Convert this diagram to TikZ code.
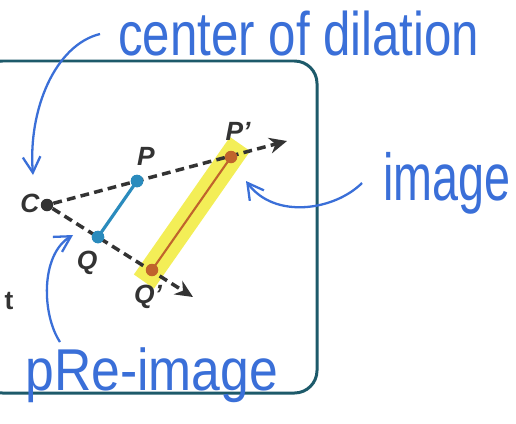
\documentclass[tikz,border=0pt]{standalone}
\usepackage{fontspec}
\usepackage{graphicx}
\setmainfont{Liberation Sans}
\usetikzlibrary{arrows.meta}
\definecolor{boxc}{HTML}{1D5A6A}
\definecolor{inkc}{HTML}{3A6FD8}
\definecolor{prec}{HTML}{2A8BBD}
\definecolor{imgc}{HTML}{C0642C}
\definecolor{hil}{HTML}{F2EC3A}
\definecolor{darkg}{HTML}{333333}
\tikzset{
  dot/.style={circle,inner sep=0pt,minimum size=0.25cm},
  lbl/.style={font=\fontsize{15}{16}\selectfont\bfseries\itshape,text=darkg,inner sep=0pt},
  ray/.style={darkg,line width=2pt,dash pattern=on 5pt off 3pt,-{Stealth[length=10pt,width=9pt]}},
  hand/.style={inkc,line width=1.3pt,-{Straight Barb[length=9pt,width=10pt]}},
  handtxt/.style={text=inkc,inner sep=0pt,font=\fontsize{28}{30}\selectfont}
}
\begin{document}
\begin{tikzpicture}[x=0.02cm,y=-0.02cm]
\useasboundingbox (0,0) rectangle (516,423);
\clip (0,0) rectangle (516,423);
\fill[white] (0,0) rectangle (516,423);
% frame
\draw[boxc,line width=1.7pt,rounded corners=0.45cm] (-20,61) rectangle (317,393);
% points
\node[dot,fill=darkg] (c) at (47,205) {};
\node[dot,fill=prec] (p) at (137,181) {};
\node[dot,fill=prec] (q) at (98,237) {};
\coordinate (pe) at (287,141);
\coordinate (qe) at (193,297);
% highlight
\coordinate (pp) at (231,157);
\coordinate (qq) at (152,270);
\draw[hil,opacity=0.85,line width=14pt,shorten <=-9pt,shorten >=-8pt] (pp) -- (qq);
% rays
\draw[ray] (c) -- (pe);
\draw[ray] (c) -- (qe);
% segments
\draw[prec,line width=1.8pt] (p.center) -- (q.center);
\draw[imgc,line width=1.2pt] (pp) -- (qq);
\node[dot,fill=imgc] (p2) at (pp) {};
\node[dot,fill=imgc] (q2) at (qq) {};
\node[dot,fill=prec] at (p) {};
\node[dot,fill=prec] at (q) {};
% labels
\node[lbl] (lc) at (30,203) {C};
\node[lbl] (lp) at (146,156) {P};
\node[lbl] (lq) at (87,263) {Q};
\node[lbl] (lp2) at (238,131) {P'};
\node[lbl] (lq2) at (148,297) {Q'};
\node[font=\fontsize{15}{16}\selectfont\bfseries,text=darkg,inner sep=0pt] (t) at (9,301) {t};
% handwritten annotations
\node[handtxt,anchor=base west] (cd) at (118,55) {\scalebox{1.0}[1.25]{center of dilation}};
\node[handtxt,anchor=base west] (im) at (383,200) {\scalebox{0.95}[1.35]{image}};
\node[handtxt,anchor=base west] (pre) at (25,390) {\scalebox{1.05}[1.2]{pRe-image}};
\coordinate (a1s) at (100,34);
\coordinate (a1e) at (33,175);
\draw[hand] (a1s) .. controls (55,45) and (28,110) .. (a1e);
\coordinate (a2s) at (362,183);
\coordinate (a2e) at (246,181);
\draw[hand] (a2s) .. controls (335,210) and (275,220) .. (a2e);
\coordinate (a3s) at (60,342);
\coordinate (a3e) at (73,235);
\draw[hand] (a3s) .. controls (42,315) and (40,255) .. (a3e);
\end{tikzpicture}
\end{document}
